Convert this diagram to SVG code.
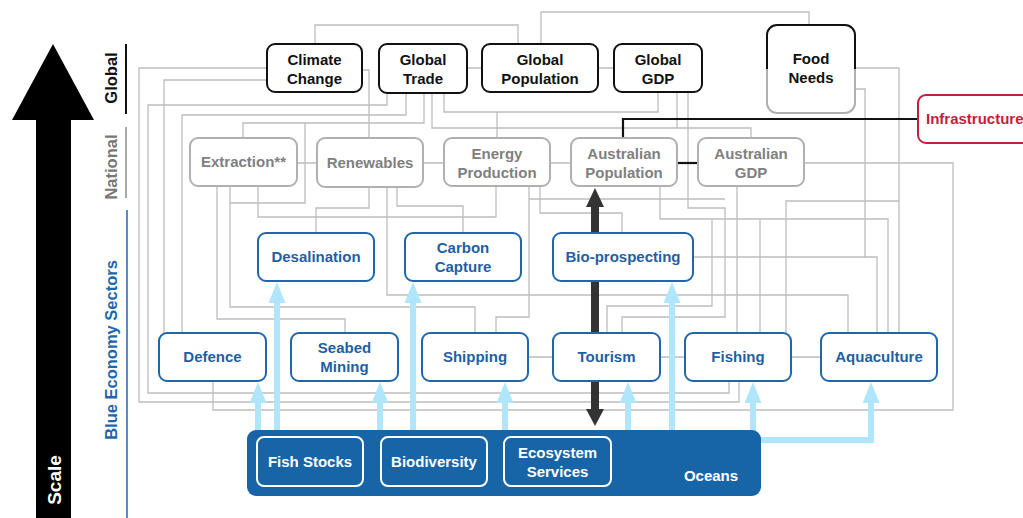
<svg xmlns="http://www.w3.org/2000/svg" width="1023" height="518" viewBox="0 0 1023 518">
<defs>
<style>
text{font-family:"Liberation Sans",Arial,sans-serif;font-weight:bold;text-anchor:middle}
.g rect{fill:#fff;stroke:#111;stroke-width:2}
.g text{fill:#111;font-size:15px}
.n rect{fill:#fff;stroke:#b0b0b0;stroke-width:2}
.n text{fill:#808080;font-size:15px}
.s rect{fill:#fff;stroke:#1f67ad;stroke-width:2}
.s text{fill:#1f5fa3;font-size:15px}
.o rect{fill:none;stroke:#fff;stroke-width:2}
.o text{fill:#fff;font-size:15px}
.gl{fill:none;stroke:#bdbdbd;stroke-width:1.3}
.lb{fill:none;stroke:#b0e6fb;stroke-width:6;marker-end:url(#lbh)}
.bk{fill:none;stroke:#111;stroke-width:2.2}
</style>
<marker id="lbh" markerUnits="userSpaceOnUse" viewBox="0 0 21 17" markerWidth="21" markerHeight="17" refX="0" refY="8.5" orient="auto">
<path d="M0,0 L21,8.5 L0,17 z" fill="#b0e6fb"/>
</marker>
<linearGradient id="fng" x1="0" y1="0" x2="0" y2="1">
<stop offset="0" stop-color="#111"/><stop offset="0.5" stop-color="#111"/><stop offset="0.5" stop-color="#b0b0b0"/><stop offset="1" stop-color="#b0b0b0"/>
</linearGradient>
</defs>
<rect width="1023" height="518" fill="#fff"/>

<g id="scale">
<polygon points="53,44 94,120 71,120 71,518 36,518 36,120 12,120" fill="#000"/>
<text transform="translate(61,480) rotate(-90)" style="fill:#fff;font-size:19px">Scale</text>
<text transform="translate(117,78) rotate(-90)" style="fill:#111;font-size:16.5px">Global</text>
<text transform="translate(117,167) rotate(-90)" style="fill:#777;font-size:16.5px">National</text>
<text transform="translate(117,350) rotate(-90)" style="fill:#1f67ad;font-size:16.5px">Blue Economy Sectors</text>
<line x1="126" y1="44" x2="126" y2="114" stroke="#111" stroke-width="2"/>
<line x1="126" y1="127" x2="126" y2="198" stroke="#aaa" stroke-width="2"/>
<line x1="127" y1="210" x2="127" y2="518" stroke="#1f67ad" stroke-width="1.5"/>
</g>

<g id="connectors">
<g class="gl">
<path d="M315,44 V25 H518 V44"/>
<path d="M541,44 V12 H809 V25"/>
<path d="M467,68 H482 M598,68 H614"/>
<path d="M362,70 H369 V138"/>
<path d="M267,68 H139 V402 H739 V381"/>
<path d="M267,80 H164 V333"/>
<path d="M387,93 V105 H148 V393 H729 V381"/>
<path d="M406,93 V115 H182 V333"/>
<path d="M424,93 V123 H243 V138"/>
<path d="M305,123 V203 H230"/>
<path d="M230,186 V307 H475 V333"/>
<path d="M432,93 V128 H751 V138"/>
<path d="M444,93 V112 H658 V92"/>
<path d="M497,112 V138"/>
<path d="M677,92 V128"/>
<path d="M688,92 V208 H725 V317 H622 V333"/>
<path d="M855,68 H899 V333"/>
<path d="M899,201 H786 V333"/>
<path d="M855,89 H865 V258"/>
<path d="M693,257 H877 V333"/>
<path d="M804,163 H953 V410 H213 V381"/>
<path d="M297,163 H317 M423,163 H444 M550,163 H571"/>
<path d="M217,186 V319 H345 V333"/>
<path d="M258,186 V217 H496 V186"/>
<path d="M369,187 V208 H316 V233"/>
<path d="M397,187 V206 H463 V233"/>
<path d="M387,187 V295 H848 V333"/>
<path d="M529,186 V317 H496 V333"/>
<path d="M540,186 V213 H622 V233"/>
<path d="M529,199 H725"/>
<path d="M660,186 V219 H888 V333"/>
<path d="M712,219 V306 H607 V333"/>
<path d="M760,219 V333"/>
<path d="M737,186 V333"/>
<path d="M528,357 H553 M660,357 H685 M791,357 H821"/>
</g>
<path class="bk" d="M918,119 H623 V138"/>
<path class="bk" d="M677,163 H698" stroke-width="2.6"/>
<g id="dark-arrow" fill="#333">
<rect x="591" y="205" width="8" height="206"/>
<polygon points="595,188 604,207 586,207"/>
<polygon points="595,426 604,409 586,409"/>
</g>
<g id="ocean-arrows">
<path class="lb" d="M258,432 V403"/>
<path class="lb" d="M277,432 V303"/>
<path class="lb" d="M380,432 V403"/>
<path class="lb" d="M413,432 V303"/>
<path class="lb" d="M505,432 V403"/>
<path class="lb" d="M628,432 V403"/>
<path class="lb" d="M672,432 V303"/>
<path class="lb" d="M753,432 V403"/>
<path class="lb" d="M758,440 H871 V403"/>
</g>
</g>

<g id="climate-change" class="g"><rect x="267" y="44" width="95" height="48" rx="8"/><text x="314.5" y="65">Climate</text><text x="314.5" y="84">Change</text></g>
<g id="global-trade" class="g"><rect x="379" y="44" width="88" height="49" rx="8"/><text x="423" y="65">Global</text><text x="423" y="84">Trade</text></g>
<g id="global-population" class="g"><rect x="482" y="44" width="116" height="48" rx="8"/><text x="540" y="65">Global</text><text x="540" y="84">Population</text></g>
<g id="global-gdp" class="g"><rect x="614" y="44" width="88" height="48" rx="8"/><text x="658" y="65">Global</text><text x="658" y="84">GDP</text></g>
<g id="food-needs" class="g"><rect x="767" y="25" width="88" height="88" rx="10" style="stroke:url(#fng)"/><text x="811" y="64">Food</text><text x="811" y="83">Needs</text></g>
<g id="infrastructure"><rect x="918" y="95" width="130" height="48" rx="8" fill="#fff" stroke="#c41e3a" stroke-width="2"/><text x="926" y="124" style="fill:#c41e3a;font-size:15px;text-anchor:start">Infrastructure</text></g>

<g id="extraction" class="n"><rect x="190" y="138" width="107" height="48" rx="8"/><text x="243.5" y="167">Extraction**</text></g>
<g id="renewables" class="n"><rect x="317" y="138" width="106" height="49" rx="8"/><text x="370" y="168">Renewables</text></g>
<g id="energy-production" class="n"><rect x="444" y="138" width="106" height="48" rx="8"/><text x="497" y="159">Energy</text><text x="497" y="178">Production</text></g>
<g id="australian-population" class="n"><rect x="571" y="138" width="106" height="48" rx="8"/><text x="624" y="159">Australian</text><text x="624" y="178">Population</text></g>
<g id="australian-gdp" class="n"><rect x="698" y="138" width="106" height="48" rx="8"/><text x="751" y="159">Australian</text><text x="751" y="178">GDP</text></g>

<g id="desalination" class="s"><rect x="258" y="233" width="116" height="48" rx="8"/><text x="316" y="262">Desalination</text></g>
<g id="carbon-capture" class="s"><rect x="405" y="233" width="116" height="48" rx="8"/><text x="463" y="253">Carbon</text><text x="463" y="272">Capture</text></g>
<g id="bio-prospecting" class="s"><rect x="553" y="233" width="140" height="48" rx="8"/><text x="623" y="262">Bio-prospecting</text></g>
<g id="defence" class="s"><rect x="159" y="333" width="107" height="48" rx="8"/><text x="212.5" y="362">Defence</text></g>
<g id="seabed-mining" class="s"><rect x="291" y="333" width="107" height="48" rx="8"/><text x="344.5" y="353">Seabed</text><text x="344.5" y="372">Mining</text></g>
<g id="shipping" class="s"><rect x="422" y="333" width="106" height="48" rx="8"/><text x="475" y="362">Shipping</text></g>
<g id="tourism" class="s"><rect x="553" y="333" width="107" height="48" rx="8"/><text x="606.5" y="362">Tourism</text></g>
<g id="fishing" class="s"><rect x="685" y="333" width="106" height="48" rx="8"/><text x="738" y="362">Fishing</text></g>
<g id="aquaculture" class="s"><rect x="821" y="333" width="116" height="48" rx="8"/><text x="879" y="362">Aquaculture</text></g>

<g id="oceans" class="o">
<rect x="247" y="430" width="514" height="66" rx="9" style="fill:#1764a7;stroke:none"/>
<text x="711" y="481">Oceans</text>
<g id="fish-stocks"><rect x="257" y="437" width="106" height="49" rx="7"/><text x="310" y="467">Fish Stocks</text></g>
<g id="biodiversity"><rect x="381" y="437" width="106" height="49" rx="7"/><text x="434" y="467">Biodiversity</text></g>
<g id="ecosystem-services"><rect x="504" y="437" width="107" height="49" rx="7"/><text x="557.5" y="458">Ecosystem</text><text x="557.5" y="477">Services</text></g>
</g>
</svg>
